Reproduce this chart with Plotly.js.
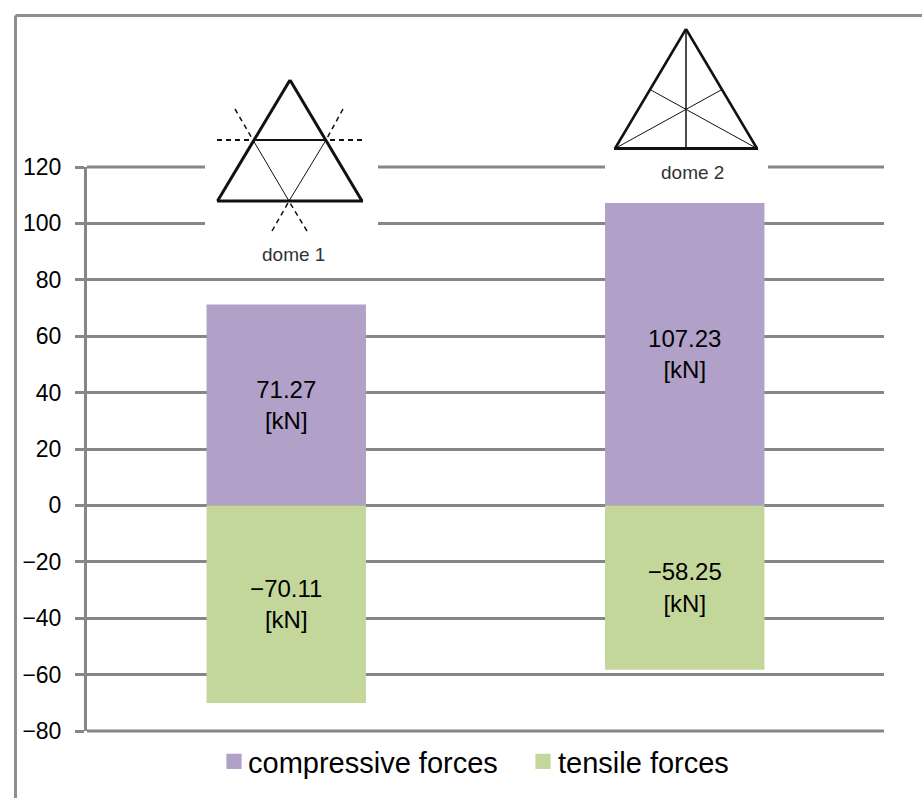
<!DOCTYPE html>
<html>
<head>
<meta charset="utf-8">
<script src="https://cdn.plot.ly/plotly-3.0.1.min.js"></script>
<style>html,body{margin:0;padding:0;background:#fff}#chart{width:922px;height:798px}</style>
</head>
<body>
<div id="chart"></div>
<script>
const domes = ['dome 1', 'dome 2'];
const compressive = [71.27, 107.23];
const tensile = [-70.11, -58.25];
const compressiveLabels = ['71.27<br>[kN]', '107.23<br>[kN]'];
const tensileLabels = ['−70.11<br>[kN]', '−58.25<br>[kN]'];
const tickValues = [120, 100, 80, 60, 40, 20, 0, -20, -40, -60, -80];
const tickLabels = ['120', '100', '80', '60', '40', '20', '0', '−20', '−40', '−60', '−80'];
const axisMin = -80, axisMax = 120;

const W = 922, H = 798;
const margin = {l: 87, r: 38, t: 167, b: 67, pad: 0};
const font = 'Liberation Sans, Arial, sans-serif';
const gridColor = '#868686';

// Diagram helpers work in page pixels and convert to paper coordinates.
const px = x => (x - margin.l) / (W - margin.l - margin.r);
const py = y => 1 - (y - margin.t) / (H - margin.t - margin.b);
const seg = (x0, y0, x1, y1, width, dash) => ({
  type: 'line', xref: 'paper', yref: 'paper',
  x0: px(x0), y0: py(y0), x1: px(x1), y1: py(y1),
  line: {color: '#111', width: width, dash: dash || 'solid'}
});
const blank = (x0, y0, x1, y1) => ({
  type: 'rect', xref: 'paper', yref: 'paper',
  x0: px(x0), y0: py(y0), x1: px(x1), y1: py(y1),
  fillcolor: '#fff', line: {width: 0}
});
const frame = (x0, y0, x1, y1) => ({
  type: 'line', xref: 'paper', yref: 'paper',
  x0: px(x0), y0: py(y0), x1: px(x1), y1: py(y1),
  line: {color: '#8f8f8f', width: 3}
});
// Plotly leaves out gridlines that sit on the plot edge, so the two outer ones are added here.
// Paper references keep them from being clipped to half their width.
const edgeGrid = v => {
  const y = (v - axisMin) / (axisMax - axisMin);
  return {type: 'line', xref: 'paper', yref: 'paper', x0: 0, x1: 1, y0: y, y1: y,
          line: {color: gridColor, width: 3}};
};
const dashes = '5px,4px';

const shapes = [
  // outer frame, open on the right and at the bottom
  frame(15.5, 15.5, 922, 15.5),
  frame(15.5, 15.5, 15.5, 798),
  edgeGrid(axisMax),
  edgeGrid(axisMin),
  // clear space behind the two diagrams
  blank(205, 40, 378, 268),
  blank(605, 20, 768, 196),
  // dome 1: triangle
  seg(290, 80, 217.5, 201, 3),
  seg(290, 80, 362, 201, 3),
  seg(217, 201, 363, 201, 3),
  // dome 1: inner members
  seg(253, 140, 326, 140, 2),
  seg(253, 140, 289, 201, 1),
  seg(326, 140, 289, 201, 1),
  // dome 1: dashed continuation lines
  seg(217, 140, 253, 140, 2, dashes),
  seg(362, 140, 326, 140, 2, dashes),
  seg(235, 109, 253, 140, 1.5, dashes),
  seg(343, 109, 326, 140, 1.5, dashes),
  seg(272, 231, 288, 203, 1.5, dashes),
  seg(307, 231, 290, 203, 1.5, dashes),
  // dome 2: triangle
  seg(686, 29, 615, 148.5, 2.5),
  seg(686, 29, 757, 148.5, 2.5),
  seg(614, 148.5, 758, 148.5, 3),
  // dome 2: inner members
  seg(686, 29, 686, 148.5, 1.5),
  seg(615, 148.5, 722, 89.5, 1),
  seg(757, 148.5, 650, 89.5, 1)
];

const annotations = [
  {text: domes[0], xref: 'paper', yref: 'paper', x: px(293), y: py(254), showarrow: false,
   xanchor: 'center', yanchor: 'middle',
   font: {family: font, size: 19, color: '#333'}},
  {text: domes[1], xref: 'paper', yref: 'paper', x: px(692), y: py(172), showarrow: false,
   xanchor: 'center', yanchor: 'middle',
   font: {family: font, size: 19, color: '#333'}}
];

const traces = [
  {type: 'bar', name: 'compressive forces', x: domes, y: compressive,
   text: compressiveLabels, textposition: 'inside', insidetextanchor: 'middle',
   textangle: 0, cliponaxis: false,
   textfont: {family: font, size: 24, color: '#000'},
   marker: {color: '#b1a0c7'}, hoverinfo: 'x+y'},
  {type: 'bar', name: 'tensile forces', x: domes, y: tensile,
   text: tensileLabels, textposition: 'inside', insidetextanchor: 'middle',
   textangle: 0, cliponaxis: false,
   textfont: {family: font, size: 24, color: '#000'},
   marker: {color: '#c4d79b'}, hoverinfo: 'x+y'}
];

const layout = {
  width: W, height: H, margin: margin,
  paper_bgcolor: '#fff', plot_bgcolor: '#fff',
  barmode: 'relative', bargap: 0.6,
  font: {family: font, color: '#000'},
  xaxis: {type: 'category', showticklabels: false, ticks: '', showgrid: false, zeroline: false, showline: false},
  yaxis: {
    range: [axisMin, axisMax], tickmode: 'array', tickvals: tickValues, ticktext: tickLabels,
    tickfont: {family: font, size: 23, color: '#000'},
    ticks: 'outside', ticklen: 9, tickwidth: 3, tickcolor: gridColor,
    ticklabelstandoff: 9,
    showgrid: true, gridcolor: gridColor, gridwidth: 3,
    zeroline: true, zerolinecolor: gridColor, zerolinewidth: 3,
    showline: true, linecolor: gridColor, linewidth: 3
  },
  legend: {
    orientation: 'h', xref: 'container', yref: 'container',
    x: 214 / W, xanchor: 'left', y: 1 - 736 / H, yanchor: 'top',
    font: {family: font, size: 29, color: '#000'},
    itemwidth: 30, entrywidth: 264, entrywidthmode: 'pixels',
    bgcolor: 'rgba(0,0,0,0)', traceorder: 'normal'
  },
  shapes: shapes,
  annotations: annotations
};

Plotly.newPlot('chart', traces, layout, {displayModeBar: false, responsive: false}).then(gd => {
  // Larger legend swatches, set closer to their labels.
  gd.querySelectorAll('.legend .legendtext').forEach((t, i) => {
    t.setAttribute('x', parseFloat(t.getAttribute('x')) - (i === 0 ? 6 : 5));
  });
  gd.querySelectorAll('.legend .legendpoints path').forEach(p => {
    p.setAttribute('transform', (p.getAttribute('transform') || '') + ' scale(1.27)');
  });
});
</script>
</body>
</html>
